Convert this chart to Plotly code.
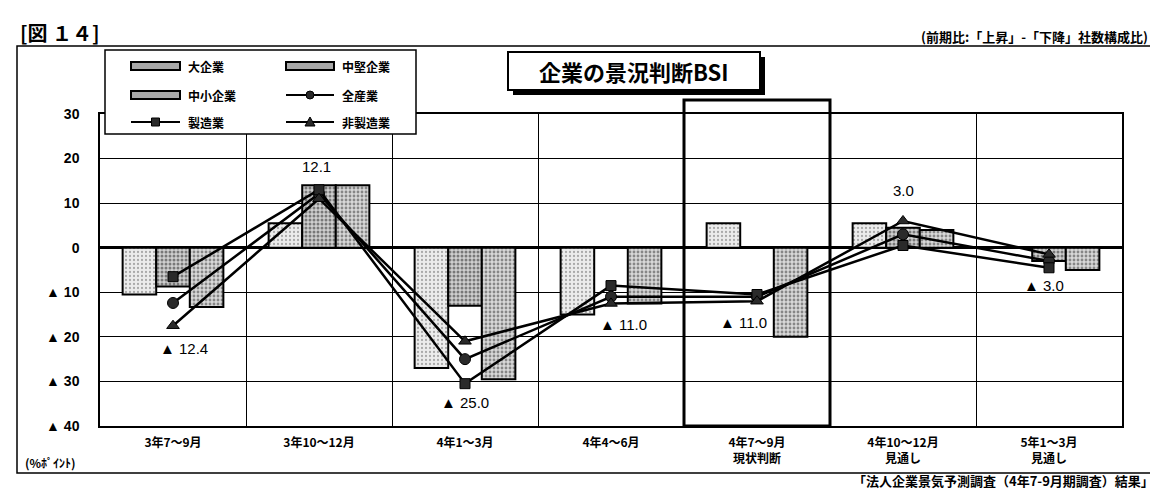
import plotly.graph_objects as go

W, H = 1158, 489
L, R, T, B = 92, 44, 106, 71
PW, PH = W - L - R, H - T - B


def X(px):
    return (px - L) / PW


def Y(py):
    return (H - B - py) / PH


categories = ["3年7～9月", "3年10～12月", "4年1～3月", "4年4～6月",
              "4年7～9月<br>現状判断", "4年10～12月<br>見通し", "5年1～3月<br>見通し"]

large = [-10.5, 5.5, -27.0, -15.0, 5.5, 5.5, 0.0]
medium = [-8.7, 14.0, -13.0, 0.0, 0.0, 4.5, -3.0]
small = [-13.3, 14.0, -29.5, -12.5, -20.0, 4.0, -5.0]

all_ind = [-12.4, 12.1, -25.0, -11.0, -11.0, 3.0, -3.0]
manuf = [-6.5, 13.0, -30.5, -8.5, -10.5, 0.5, -4.5]
nonmanuf = [-17.5, 11.0, -21.0, -12.5, -12.0, 6.0, -1.5]

y_ticks = [30, 20, 10, 0, -10, -20, -30, -40]
y_ticktext = ["30", "20", "10", "0", "▲ 10", "▲ 20", "▲ 30", "▲ 40"]

# label offsets (px) for 全産業 values
label_shift = [(11, -46), (-3, 27), (0, -43), (12, -28), (-14, -26), (0, 44), (-5, -24)]

JP = "Noto Sans CJK JP"
NUM = "Liberation Sans, Noto Sans CJK JP"

fig = go.Figure()

bar_styles = [
    ("大企業", large, "#ececec", "#666666", 0.25),
    ("中堅企業", medium, "#cfcfcf", "#222222", 0.45),
    ("中小企業", small, "#d8d8d8", "#333333", 0.4),
]
for name, vals, bg, fg, sol in bar_styles:
    fig.add_trace(go.Bar(
        x=categories, y=vals, name=name,
        marker=dict(color=bg, line=dict(color="black", width=2),
                    pattern=dict(shape=".", fgcolor=fg, size=4,
                                 solidity=sol, fillmode="overlay")),
    ))

line_styles = [
    ("全産業", all_ind, "circle", 11),
    ("製造業", manuf, "square", 10),
    ("非製造業", nonmanuf, "triangle-up", 11),
]
for name, vals, sym, sz in line_styles:
    fig.add_trace(go.Scatter(
        x=categories, y=vals, name=name, mode="lines+markers",
        line=dict(color="black", width=2.5),
        marker=dict(symbol=sym, size=sz, color="#2a2a2a",
                    line=dict(color="black", width=1)),
    ))

annotations = []
for cat, v, (dx, dy) in zip(categories, all_ind, label_shift):
    txt = f"▲ {abs(v):.1f}" if v < 0 else f"{v:.1f}"
    annotations.append(dict(x=cat, y=v, xref="x", yref="y", text=txt,
                            showarrow=False, xshift=dx, yshift=dy,
                            font=dict(family=NUM, size=15, color="black")))

shapes = []

# outer frame
shapes.append(dict(type="rect", xref="paper", yref="paper",
                   x0=X(9), x1=X(1150), y0=Y(38), y1=Y(465),
                   line=dict(color="black", width=1.5), layer="below"))

# highlight box around 4年7～9月
shapes.append(dict(type="rect", xref="x", yref="paper",
                   x0=3.5, x1=4.5, y0=0, y1=Y(92),
                   line=dict(color="black", width=3), layer="above"))

# title box with shadow
shapes.append(dict(type="rect", xref="paper", yref="paper",
                   x0=X(505), x1=X(757), y0=Y(49), y1=Y(87),
                   fillcolor="black", line=dict(width=0), layer="above"))
shapes.append(dict(type="rect", xref="paper", yref="paper",
                   x0=X(500), x1=X(752), y0=Y(44), y1=Y(82),
                   fillcolor="white", line=dict(color="black", width=2), layer="above"))

# custom legend
shapes.append(dict(type="rect", xref="paper", yref="paper",
                   x0=X(97), x1=X(408), y0=Y(42), y1=Y(126),
                   fillcolor="white", line=dict(color="black", width=1.5), layer="above"))

legend_items = [("大企業", "bar"), ("中堅企業", "bar"), ("中小企業", "bar"),
                ("全産業", "circle"), ("製造業", "square"), ("非製造業", "triangle")]
row_y = [58, 87, 114]
col_x = [(123, 172, 178), (278, 326, 332)]
for i, (name, kind) in enumerate(legend_items):
    sx0, sx1, tx = col_x[i % 2]
    yy = row_y[i // 2]
    if kind == "bar":
        shapes.append(dict(type="rect", xref="paper", yref="paper",
                           x0=X(sx0), x1=X(sx1), y0=Y(yy - 4), y1=Y(yy + 4),
                           fillcolor="#a8a8a8", line=dict(color="black", width=2),
                           layer="above"))
    else:
        cx = (sx0 + sx1) / 2
        shapes.append(dict(type="line", xref="paper", yref="paper",
                           x0=X(sx0), x1=X(sx1), y0=Y(yy), y1=Y(yy),
                           line=dict(color="black", width=2), layer="above"))
        if kind == "circle":
            shapes.append(dict(type="circle", xref="paper", yref="paper",
                               x0=X(cx - 4), x1=X(cx + 4), y0=Y(yy - 4), y1=Y(yy + 4),
                               fillcolor="#2a2a2a", line=dict(color="black", width=1),
                               layer="above"))
        elif kind == "square":
            shapes.append(dict(type="rect", xref="paper", yref="paper",
                               x0=X(cx - 4), x1=X(cx + 4), y0=Y(yy - 4), y1=Y(yy + 4),
                               fillcolor="#2a2a2a", line=dict(color="black", width=1),
                               layer="above"))
        else:
            path = (f"M {X(cx - 5)},{Y(yy + 4)} L {X(cx + 5)},{Y(yy + 4)} "
                    f"L {X(cx)},{Y(yy - 5)} Z")
            shapes.append(dict(type="path", xref="paper", yref="paper", path=path,
                               fillcolor="#2a2a2a", line=dict(color="black", width=1),
                               layer="above"))
    annotations.append(dict(x=X(tx), y=Y(yy), xref="paper", yref="paper",
                            text=name, showarrow=False, xanchor="left", yanchor="middle",
                            font=dict(family=JP, size=12, color="black", weight="bold")))

# titles and notes
annotations += [
    dict(x=X(626), y=Y(63), xref="paper", yref="paper", text="企業の景況判断BSI",
         showarrow=False, xanchor="center", yanchor="middle",
         font=dict(family=JP, size=22, color="black", weight="bold")),
    dict(x=X(1142), y=Y(28), xref="paper", yref="paper",
         text="(前期比:「上昇」-「下降」社数構成比)",
         showarrow=False, xanchor="right", yanchor="middle",
         font=dict(family=JP, size=13, color="black", weight="bold")),
    dict(x=X(10), y=Y(24), xref="paper", yref="paper", text="[図 １４]",
         showarrow=False, xanchor="left", yanchor="middle",
         font=dict(family=JP, size=20, color="black", weight="bold")),
    dict(x=X(15), y=Y(454), xref="paper", yref="paper", text="(%ﾎﾟｲﾝﾄ)",
         showarrow=False, xanchor="left", yanchor="middle",
         font=dict(family=JP, size=12, color="black", weight="bold")),
    dict(x=X(1148), y=Y(484), xref="paper", yref="paper",
         text="「法人企業景気予測調査（4年7-9月期調査）結果」",
         showarrow=False, xanchor="right", yanchor="bottom",
         font=dict(family=JP, size=13, color="black", weight="bold")),
]

fig.update_layout(
    width=W, height=H,
    margin=dict(l=L, r=R, t=T, b=B, pad=0),
    paper_bgcolor="white", plot_bgcolor="white",
    barmode="group", bargap=0.31, bargroupgap=0,
    showlegend=False,
    shapes=shapes, annotations=annotations,
    font=dict(family=NUM, color="black"),
)

fig.update_xaxes(
    type="category", tickson="boundaries",
    showgrid=True, gridcolor="black", gridwidth=1,
    showline=True, linecolor="black", linewidth=1.5, mirror=True,
    ticks="", ticklabelstandoff=5,
    tickfont=dict(family=JP, size=12, color="black", weight="bold"),
)
fig.update_yaxes(
    range=[-40, 30], tickvals=y_ticks, ticktext=y_ticktext,
    showgrid=True, gridcolor="black", gridwidth=1,
    zeroline=True, zerolinecolor="black", zerolinewidth=2.5,
    showline=True, linecolor="black", linewidth=1.5, mirror=True,
    ticks="", ticklabelstandoff=16,
    tickfont=dict(family=NUM, size=14, color="black", weight="bold"),
)

fig.write_html("out.html")
